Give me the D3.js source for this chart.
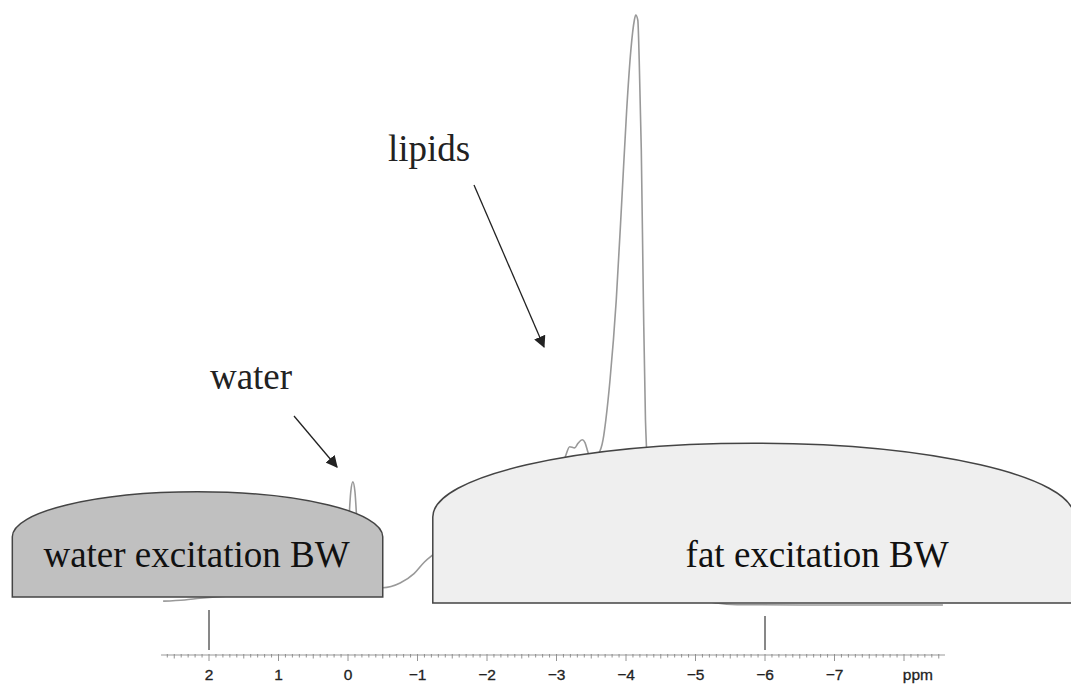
<!DOCTYPE html>
<html>
<head>
<meta charset="utf-8">
<script src="https://cdn.jsdelivr.net/npm/d3@7"></script>
<style>
  html, body { margin: 0; padding: 0; background: #fff; }
  svg { display: block; }
</style>
</head>
<body>
<div id="chart"></div>
<script>
// spectrum: chemical shift (ppm) and relative intensity (lipid peak = 100)
const specPpm = [2.66, 2.35, 2.13, 1.70, 0.69, 0.26, 0.10, 0.02, -0.01, -0.04, -0.07, -0.10, -0.13, -0.17, -0.25,
  -0.50, -0.75, -0.95, -1.10, -1.25, -1.8, -2.5, -3.05, -3.13, -3.19, -3.26, -3.31, -3.37, -3.41, -3.46, -3.52,
  -3.60, -3.67, -3.71, -3.77, -3.86, -3.94, -4.01, -4.07, -4.12, -4.14, -4.17, -4.19, -4.22, -4.25, -4.28, -4.35,
  -4.5, -4.8, -5.1, -5.3, -5.6, -6.5, -7.5, -8.56];
const specInt = [-0.2, 0, 0.3, 0.7, 1.0, 1.4, 2.0, 6, 13, 18.5, 20.2, 18.5, 13, 6, 2.5,
  2.1, 2.9, 4.5, 6.5, 8, 13, 19, 22, 24.6, 26.2, 26.0, 26.8, 27.4, 26.9, 25.0, 24.2,
  24.9, 27.4, 30.8, 37.6, 51.3, 68.4, 83.8, 94, 99.1, 100, 99.1, 92.3, 77, 51.3, 30.8, 17,
  8, 2, 0, -0.5, -0.8, -0.85, -0.85, -0.85];

// excitation bandwidth boxes: [left ppm, right ppm], bottom / shoulder / apex intensity
const boxNames = ["water excitation BW", "fat excitation BW"];
const boxPpm = [[4.83, -0.50], [-1.22, -10.45]];
const boxLevels = [[0.5, 10.8, 18.5], [-0.5, 14.2, 26.8]];
const boxFill = ["#c0c0c0", "#efefef"];
const boxLabelPpm = [2.18, -6.75];

// marker lines at the two excitation frequencies
const markerPpm = [2, -6];

// axis
const tickLabels = [2, 1, 0, -1, -2, -3, -4, -5, -6, -7];
const axisRange = [2.69, -8.59];

// annotations
const notes = ["water", "lipids"];

const width = 1071, height = 684;
const svg = d3.select("#chart").append("svg")
  .attr("width", width)
  .attr("height", height);

const x = d3.scaleLinear().domain([2, -6]).range([209, 765]);
const y = d3.scaleLinear().domain([0, 100]).range([600, 15]);

const defs = svg.append("defs");
defs.append("marker")
  .attr("id", "head")
  .attr("viewBox", "0 0 10 10")
  .attr("refX", 9).attr("refY", 5)
  .attr("markerWidth", 12).attr("markerHeight", 12)
  .attr("markerUnits", "userSpaceOnUse")
  .attr("orient", "auto")
  .append("path")
  .attr("d", "M0,0 L10,5 L0,10 Z")
  .attr("fill", "#222");

// spectrum
const line = d3.line()
  .x(d => x(d[0]))
  .y(d => y(d[1]))
  .curve(d3.curveMonotoneX);

svg.append("path")
  .datum(specPpm.map((p, i) => [-p, specInt[i]]))
  .attr("d", line.x(d => x(-d[0])))
  .attr("fill", "none")
  .attr("stroke", "#999")
  .attr("stroke-width", 1.6);

// boxes with an elliptical top
boxPpm.forEach((b, i) => {
  const [lo, sh, ap] = boxLevels[i];
  const x0 = x(b[0]), x1 = x(b[1]);
  const yb = y(lo), ys = y(sh), ya = y(ap);
  const rx = (x1 - x0) / 2, ry = ys - ya;
  const p = d3.path();
  p.moveTo(x0, yb);
  p.lineTo(x0, ys);
  // half ellipse drawn as two cubic quarters
  const k = 0.5523;
  const cx = x0 + rx;
  p.bezierCurveTo(x0, ys - k * ry, cx - k * rx, ya, cx, ya);
  p.bezierCurveTo(cx + k * rx, ya, x1, ys - k * ry, x1, ys);
  p.lineTo(x1, yb);
  p.closePath();
  svg.append("path")
    .attr("d", p.toString())
    .attr("fill", boxFill[i])
    .attr("stroke", "#444")
    .attr("stroke-width", 1.5);
  svg.append("text")
    .attr("x", x(boxLabelPpm[i]))
    .attr("y", 567)
    .attr("text-anchor", "middle")
    .attr("font-family", "'Liberation Serif', 'Times New Roman', serif")
    .attr("font-size", 37)
    .attr("fill", "#111")
    .text(boxNames[i]);
});

// marker lines
svg.selectAll(".marker")
  .data(markerPpm)
  .join("line")
  .attr("class", "marker")
  .attr("x1", d => x(d)).attr("x2", d => x(d))
  .attr("y1", (d, i) => i === 0 ? 610 : 616)
  .attr("y2", 650)
  .attr("stroke", "#111")
  .attr("stroke-width", 1);

// ppm axis, small ticks hanging below the line
const axisY = 655;
const ax = svg.append("g");
ax.append("line")
  .attr("x1", x(axisRange[0])).attr("x2", x(axisRange[1]))
  .attr("y1", axisY).attr("y2", axisY)
  .attr("stroke", "#999").attr("stroke-width", 1);

const minor = d3.range(Math.ceil(axisRange[1] * 10), Math.floor(axisRange[0] * 10) + 1).map(i => i / 10);
ax.selectAll(".tick")
  .data(minor)
  .join("line")
  .attr("x1", d => x(d)).attr("x2", d => x(d))
  .attr("y1", axisY - 1)
  .attr("y2", d => {
    const r = Math.round(d * 10);
    if (r % 10 === 0) return axisY + 6;
    if (r % 5 === 0) return axisY + 3.5;
    return axisY + 2.5;
  })
  .attr("stroke", "#888").attr("stroke-width", 0.9);

ax.selectAll(".lbl")
  .data(tickLabels)
  .join("text")
  .attr("x", d => x(d))
  .attr("y", 680)
  .attr("text-anchor", "middle")
  .attr("font-family", "'Liberation Sans', Arial, sans-serif")
  .attr("font-size", 15.5)
  .attr("fill", "#222")
  .attr("stroke", "#222")
  .attr("stroke-width", 0.3)
  .text(d => d3.format("d")(d));

ax.append("text")
  .attr("x", x(-8.2))
  .attr("y", 680)
  .attr("text-anchor", "middle")
  .attr("font-family", "'Liberation Sans', Arial, sans-serif")
  .attr("font-size", 15.5)
  .attr("fill", "#222")
  .attr("stroke", "#222")
  .attr("stroke-width", 0.3)
  .text("ppm");

// annotation labels and arrows
const notePos = [[251, 389], [429, 161]];
const arrows = [[[294, 416], [337, 467]], [[474, 185], [544, 347]]];
notes.forEach((n, i) => {
  svg.append("text")
    .attr("x", notePos[i][0]).attr("y", notePos[i][1])
    .attr("text-anchor", "middle")
    .attr("font-family", "'Liberation Serif', 'Times New Roman', serif")
    .attr("font-size", 37)
    .attr("fill", "#222")
    .text(n);
  svg.append("line")
    .attr("x1", arrows[i][0][0]).attr("y1", arrows[i][0][1])
    .attr("x2", arrows[i][1][0]).attr("y2", arrows[i][1][1])
    .attr("stroke", "#222")
    .attr("stroke-width", 1.3)
    .attr("marker-end", "url(#head)");
});
</script>
</body>
</html>
